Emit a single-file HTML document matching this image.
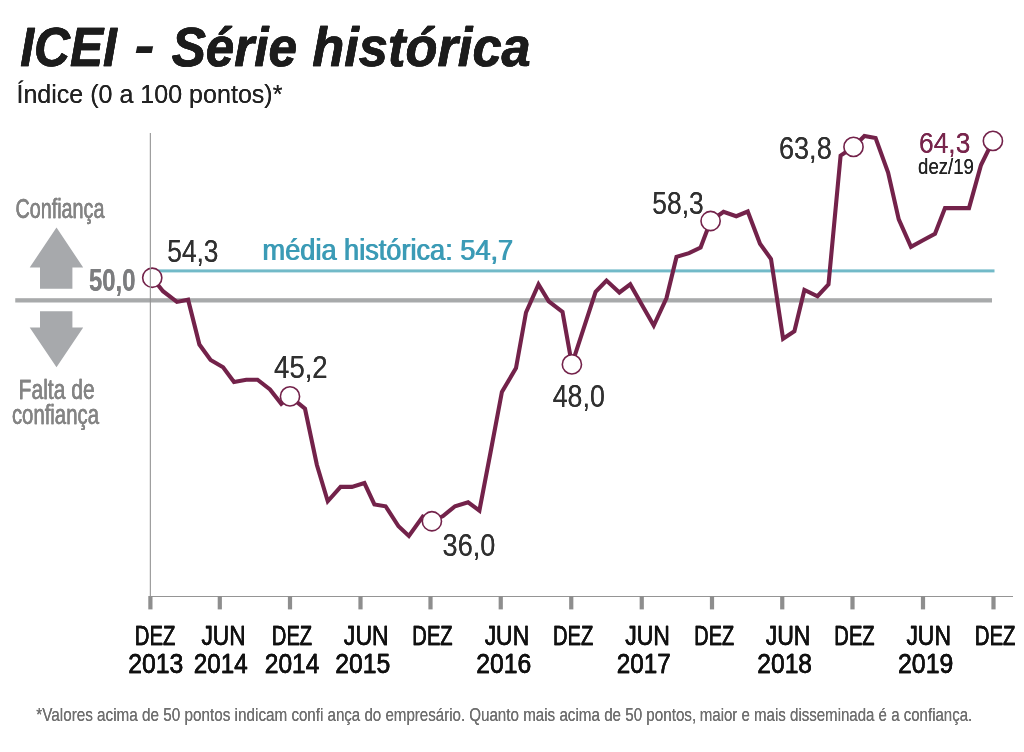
<!DOCTYPE html>
<html lang="pt-BR">
<head>
<meta charset="utf-8">
<title>ICEI - Série histórica</title>
<style>
html,body{margin:0;padding:0;background:#fff}
svg{display:block;will-change:transform}
svg text{font-family:"Liberation Sans",sans-serif}
</style>
</head>
<body>
<svg width="1024" height="752" viewBox="0 0 1024 752">
<defs>
<filter id="th25" x="-2%" y="-20%" width="104%" height="140%" color-interpolation-filters="sRGB"><feOffset dx="0.25" dy="0" result="o"/><feMerge><feMergeNode in="SourceGraphic"/><feMergeNode in="o"/></feMerge></filter>
<filter id="th30" x="-2%" y="-20%" width="104%" height="140%" color-interpolation-filters="sRGB"><feOffset dx="0.3" dy="0" result="o"/><feMerge><feMergeNode in="SourceGraphic"/><feMergeNode in="o"/></feMerge></filter>
<filter id="th40" x="-2%" y="-20%" width="104%" height="140%" color-interpolation-filters="sRGB"><feOffset dx="0.4" dy="0" result="o"/><feMerge><feMergeNode in="SourceGraphic"/><feMergeNode in="o"/></feMerge></filter>
<filter id="th50" x="-2%" y="-20%" width="104%" height="140%" color-interpolation-filters="sRGB"><feOffset dx="0.5" dy="0" result="o"/><feMerge><feMergeNode in="SourceGraphic"/><feMergeNode in="o"/></feMerge></filter>
<filter id="th60" x="-2%" y="-20%" width="104%" height="140%" color-interpolation-filters="sRGB"><feOffset dx="0.6" dy="0" result="o"/><feMerge><feMergeNode in="SourceGraphic"/><feMergeNode in="o"/></feMerge></filter>
</defs>
<rect width="1024" height="752" fill="#ffffff"/>
<line x1="150" y1="596.5" x2="1013" y2="596.5" stroke="#959595" stroke-width="1.1"/>
<rect x="148.30" y="596" width="4.2" height="13.4" fill="#8e8e8e"/>
<rect x="217.70" y="596" width="4.2" height="13.4" fill="#8e8e8e"/>
<rect x="287.90" y="596" width="4.2" height="13.4" fill="#8e8e8e"/>
<rect x="358.40" y="596" width="4.2" height="13.4" fill="#8e8e8e"/>
<rect x="428.40" y="596" width="4.2" height="13.4" fill="#8e8e8e"/>
<rect x="498.65" y="596" width="4.2" height="13.4" fill="#8e8e8e"/>
<rect x="569.15" y="596" width="4.2" height="13.4" fill="#8e8e8e"/>
<rect x="639.65" y="596" width="4.2" height="13.4" fill="#8e8e8e"/>
<rect x="709.90" y="596" width="4.2" height="13.4" fill="#8e8e8e"/>
<rect x="780.15" y="596" width="4.2" height="13.4" fill="#8e8e8e"/>
<rect x="850.40" y="596" width="4.2" height="13.4" fill="#8e8e8e"/>
<rect x="920.90" y="596" width="4.2" height="13.4" fill="#8e8e8e"/>
<rect x="991.40" y="596" width="4.2" height="13.4" fill="#8e8e8e"/>
<rect x="15.25" y="298.2" width="976.75" height="4.3" fill="#a8aaab"/>
<rect x="150" y="269.4" width="844.5" height="3" fill="#72bac8"/>
<polygon points="56.5,227.5 83.2,267.5 72.4,267.6 72.4,288.8 40,288.8 40,267.5 29.7,267.5" fill="#a7a9ac"/>
<polygon points="40,311.3 72.4,311.3 72.4,327.5 83.2,327.5 56.5,367.3 29.7,327.5 40,327.5" fill="#a7a9ac"/>
<polyline points="152.25,277.75 163.00,291.25 176.90,301.90 188.10,299.75 199.40,344.50 210.60,360.00 223.10,367.25 234.00,381.90 246.25,379.75 257.50,379.75 270.00,389.40 281.25,403.75 290.00,396.40 305.00,408.75 316.90,465.00 327.75,501.25 340.60,486.90 351.90,486.90 364.40,483.10 374.40,504.40 385.60,506.25 398.50,526.25 408.90,536.00 422.80,516.60 431.90,521.25 443.00,516.00 455.00,506.25 468.10,502.25 479.40,510.60 490.60,452.00 501.90,391.90 516.00,368.10 526.00,312.50 538.50,284.40 548.75,301.25 562.50,311.90 571.90,364.40 583.50,328.90 595.60,291.90 606.50,280.60 619.40,292.50 630.25,284.40 642.00,305.00 653.75,325.60 666.50,298.10 676.50,256.90 689.00,253.10 700.60,247.50 710.60,221.00 723.50,211.90 736.25,216.25 747.75,211.50 760.00,243.75 771.00,259.00 783.10,338.75 794.40,331.25 804.40,290.00 817.50,296.25 828.50,284.40 840.60,155.60 853.50,146.90 864.40,136.00 875.60,138.10 888.10,172.50 898.75,219.40 911.00,246.90 923.00,240.30 935.00,233.75 945.00,208.10 957.00,208.10 969.00,208.10 981.00,165.00 992.90,140.90" fill="none" stroke="#73224a" stroke-width="4.1" stroke-linejoin="miter" stroke-miterlimit="6" stroke-linecap="butt"/>
<circle cx="152.25" cy="277.75" r="9.6" fill="#ffffff" stroke="#73224a" stroke-width="1.6"/>
<circle cx="290.00" cy="396.40" r="9.6" fill="#ffffff" stroke="#73224a" stroke-width="1.6"/>
<circle cx="431.90" cy="521.25" r="9.6" fill="#ffffff" stroke="#73224a" stroke-width="1.6"/>
<circle cx="571.90" cy="364.40" r="9.6" fill="#ffffff" stroke="#73224a" stroke-width="1.6"/>
<circle cx="710.60" cy="221.00" r="9.6" fill="#ffffff" stroke="#73224a" stroke-width="1.6"/>
<circle cx="853.50" cy="146.90" r="9.6" fill="#ffffff" stroke="#73224a" stroke-width="1.6"/>
<circle cx="992.90" cy="140.90" r="9.6" fill="#ffffff" stroke="#73224a" stroke-width="1.6"/>
<line x1="150.35" y1="133" x2="150.35" y2="597" stroke="#959595" stroke-width="1.1"/>
<text transform="translate(20.32,66.30) scale(0.8817,1)" font-size="56.3" font-weight="bold" font-style="italic" fill="#1c1c1c" stroke="#1c1c1c" stroke-width="0.6" stroke-linejoin="round" vector-effect="non-scaling-stroke" filter="url(#th50)">ICEI</text>
<text transform="translate(134.00,64.19) scale(1.1000,0.9571)" font-size="57.3" font-weight="bold" font-style="italic" fill="#1c1c1c">-</text>
<text transform="translate(171.69,66.30) scale(0.9096,1)" font-size="56.3" font-weight="bold" font-style="italic" fill="#1c1c1c" stroke="#1c1c1c" stroke-width="0.6" stroke-linejoin="round" vector-effect="non-scaling-stroke" filter="url(#th50)">Série</text>
<text transform="translate(312.27,66.30) scale(0.9310,1)" font-size="56.3" font-weight="bold" font-style="italic" fill="#1c1c1c" stroke="#1c1c1c" stroke-width="0.6" stroke-linejoin="round" vector-effect="non-scaling-stroke" filter="url(#th50)">histórica</text>
<text transform="translate(16.42,103.40) scale(0.9906,1)" font-size="25.3" fill="#222" filter="url(#th30)">Índice (0 a 100 pontos)*</text>
<text transform="translate(15.43,217.50) scale(0.7171,1)" font-size="27.6" fill="#848484" stroke="#848484" stroke-width="0.3" stroke-linejoin="round" vector-effect="non-scaling-stroke" filter="url(#th50)">Confiança</text>
<text transform="translate(88.97,291.30) scale(0.7750,1)" font-size="30.8" font-weight="bold" fill="#7c7d7f" filter="url(#th30)">50,0</text>
<text transform="translate(18.62,398.50) scale(0.7625,1)" font-size="27.6" fill="#848484" stroke="#848484" stroke-width="0.3" stroke-linejoin="round" vector-effect="non-scaling-stroke" filter="url(#th50)">Falta de</text>
<text transform="translate(11.91,423.50) scale(0.7368,1)" font-size="27.6" fill="#848484" stroke="#848484" stroke-width="0.3" stroke-linejoin="round" vector-effect="non-scaling-stroke" filter="url(#th50)">confiança</text>
<text transform="translate(167.24,261.80) scale(0.8552,1)" font-size="30.8" fill="#303030" filter="url(#th40)">54,3</text>
<text transform="translate(262.09,260.30) scale(0.9055,1)" font-size="30" fill="#3b9bb6" filter="url(#th60)">média histórica: 54,7</text>
<text transform="translate(274.11,377.70) scale(0.8930,1)" font-size="30.8" fill="#303030" filter="url(#th40)">45,2</text>
<text transform="translate(442.62,555.80) scale(0.8793,1)" font-size="30.8" fill="#303030" filter="url(#th40)">36,0</text>
<text transform="translate(552.73,406.50) scale(0.8690,1)" font-size="30.8" fill="#303030" filter="url(#th40)">48,0</text>
<text transform="translate(652.34,213.60) scale(0.8569,1)" font-size="30.8" fill="#303030" filter="url(#th40)">58,3</text>
<text transform="translate(778.94,158.60) scale(0.8807,1)" font-size="30.8" fill="#303030" filter="url(#th40)">63,8</text>
<text transform="translate(919.02,153.10) scale(0.8786,1)" font-size="30" fill="#78254c" filter="url(#th40)">64,3</text>
<text transform="translate(918.03,173.80) scale(0.8694,1)" font-size="21.4" fill="#222" filter="url(#th40)">dez/19</text>
<text transform="translate(134.80,644.70) scale(0.7510,1)" font-size="27.0" fill="#111" stroke="#111" stroke-width="0.4" stroke-linejoin="round" vector-effect="non-scaling-stroke" filter="url(#th60)">DEZ</text>
<text transform="translate(271.81,644.70) scale(0.7471,1)" font-size="27.0" fill="#111" stroke="#111" stroke-width="0.4" stroke-linejoin="round" vector-effect="non-scaling-stroke" filter="url(#th60)">DEZ</text>
<text transform="translate(412.31,644.70) scale(0.7471,1)" font-size="27.0" fill="#111" stroke="#111" stroke-width="0.4" stroke-linejoin="round" vector-effect="non-scaling-stroke" filter="url(#th60)">DEZ</text>
<text transform="translate(553.01,644.70) scale(0.7471,1)" font-size="27.0" fill="#111" stroke="#111" stroke-width="0.4" stroke-linejoin="round" vector-effect="non-scaling-stroke" filter="url(#th60)">DEZ</text>
<text transform="translate(694.33,644.70) scale(0.7373,1)" font-size="27.0" fill="#111" stroke="#111" stroke-width="0.4" stroke-linejoin="round" vector-effect="non-scaling-stroke" filter="url(#th60)">DEZ</text>
<text transform="translate(834.31,644.70) scale(0.7471,1)" font-size="27.0" fill="#111" stroke="#111" stroke-width="0.4" stroke-linejoin="round" vector-effect="non-scaling-stroke" filter="url(#th60)">DEZ</text>
<text transform="translate(974.79,644.70) scale(0.7549,1)" font-size="27.0" fill="#111" stroke="#111" stroke-width="0.4" stroke-linejoin="round" vector-effect="non-scaling-stroke" filter="url(#th60)">DEZ</text>
<text transform="translate(201.46,644.70) scale(0.8429,1)" font-size="27.0" fill="#111" stroke="#111" stroke-width="0.4" stroke-linejoin="round" vector-effect="non-scaling-stroke" filter="url(#th50)">JUN</text>
<text transform="translate(343.84,644.70) scale(0.8551,1)" font-size="27.0" fill="#111" stroke="#111" stroke-width="0.4" stroke-linejoin="round" vector-effect="non-scaling-stroke" filter="url(#th50)">JUN</text>
<text transform="translate(484.65,644.70) scale(0.8490,1)" font-size="27.0" fill="#111" stroke="#111" stroke-width="0.4" stroke-linejoin="round" vector-effect="non-scaling-stroke" filter="url(#th50)">JUN</text>
<text transform="translate(625.15,644.70) scale(0.8531,1)" font-size="27.0" fill="#111" stroke="#111" stroke-width="0.4" stroke-linejoin="round" vector-effect="non-scaling-stroke" filter="url(#th50)">JUN</text>
<text transform="translate(765.65,644.70) scale(0.8531,1)" font-size="27.0" fill="#111" stroke="#111" stroke-width="0.4" stroke-linejoin="round" vector-effect="non-scaling-stroke" filter="url(#th50)">JUN</text>
<text transform="translate(906.45,644.70) scale(0.8469,1)" font-size="27.0" fill="#111" stroke="#111" stroke-width="0.4" stroke-linejoin="round" vector-effect="non-scaling-stroke" filter="url(#th50)">JUN</text>
<text transform="translate(128.19,672.50) scale(0.9103,1)" font-size="27.2" fill="#111" stroke="#111" stroke-width="0.4" stroke-linejoin="round" vector-effect="non-scaling-stroke" filter="url(#th40)">2013</text>
<text transform="translate(193.81,672.50) scale(0.8898,1)" font-size="27.2" fill="#111" stroke="#111" stroke-width="0.4" stroke-linejoin="round" vector-effect="non-scaling-stroke" filter="url(#th40)">2014</text>
<text transform="translate(264.80,672.50) scale(0.9017,1)" font-size="27.2" fill="#111" stroke="#111" stroke-width="0.4" stroke-linejoin="round" vector-effect="non-scaling-stroke" filter="url(#th40)">2014</text>
<text transform="translate(335.29,672.50) scale(0.9086,1)" font-size="27.2" fill="#111" stroke="#111" stroke-width="0.4" stroke-linejoin="round" vector-effect="non-scaling-stroke" filter="url(#th40)">2015</text>
<text transform="translate(476.29,672.50) scale(0.9086,1)" font-size="27.2" fill="#111" stroke="#111" stroke-width="0.4" stroke-linejoin="round" vector-effect="non-scaling-stroke" filter="url(#th40)">2016</text>
<text transform="translate(616.81,672.50) scale(0.8914,1)" font-size="27.2" fill="#111" stroke="#111" stroke-width="0.4" stroke-linejoin="round" vector-effect="non-scaling-stroke" filter="url(#th40)">2017</text>
<text transform="translate(757.30,672.50) scale(0.9043,1)" font-size="27.2" fill="#111" stroke="#111" stroke-width="0.4" stroke-linejoin="round" vector-effect="non-scaling-stroke" filter="url(#th40)">2018</text>
<text transform="translate(898.04,672.50) scale(0.9129,1)" font-size="27.2" fill="#111" stroke="#111" stroke-width="0.4" stroke-linejoin="round" vector-effect="non-scaling-stroke" filter="url(#th40)">2019</text>
<text transform="translate(36.25,720.50) scale(0.8488,1)" font-size="18" fill="#6f6f6f" filter="url(#th25)">*Valores acima de 50 pontos indicam</text>
<text transform="translate(291.41,720.50) scale(0.8395,1)" font-size="18" fill="#6f6f6f" filter="url(#th25)">confi ança do empresário.</text>
<text transform="translate(469.16,720.50) scale(0.8440,1)" font-size="18" fill="#6f6f6f" filter="url(#th25)">Quanto mais acima de 50 pontos,</text>
<text transform="translate(699.76,720.50) scale(0.8361,1)" font-size="18" fill="#6f6f6f" filter="url(#th25)">maior e mais disseminada é a confiança.</text>
</svg>
</body>
</html>
